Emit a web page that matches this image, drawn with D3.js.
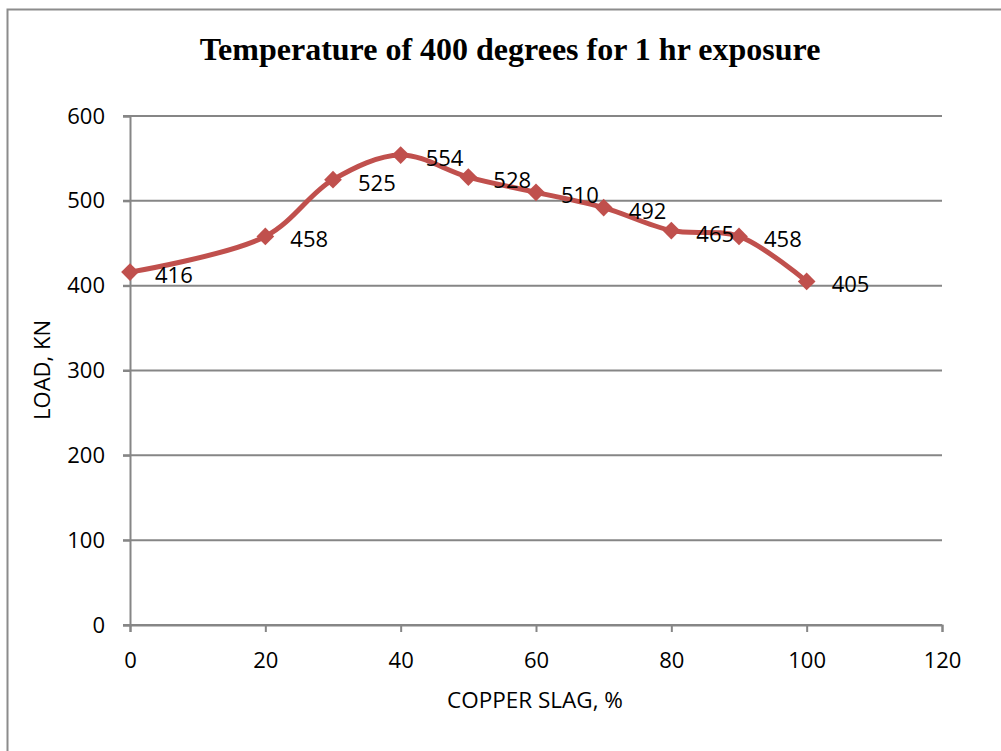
<!DOCTYPE html>
<html>
<head>
<meta charset="utf-8">
<script src="https://cdn.jsdelivr.net/npm/d3@7"></script>
<style>
  body { margin: 0; background: #fff; }
  text { font-family: "Open Sans", "Liberation Sans", sans-serif; fill: #000; }
</style>
</head>
<body>
<svg id="chart"></svg>
<script>
// data
var copperSlag = [0, 20, 30, 40, 50, 60, 70, 80, 90, 100];
var loadKN = [416, 458, 525, 554, 528, 510, 492, 465, 458, 405];
var xTicks = [0, 20, 40, 60, 80, 100, 120];
var yTicks = [0, 100, 200, 300, 400, 500, 600];

var titleText = "Temperature of 400 degrees for 1 hr exposure";
var xTitle = "COPPER SLAG, %";
var yTitle = "LOAD, KN";

var W = 1001, H = 751;
var margin = {top: 116, right: 59, bottom: 126, left: 130},
    width = W - margin.left - margin.right,
    height = H - margin.top - margin.bottom;

var svg = d3.select("#chart").attr("width", W).attr("height", H);

// outer chart frame (runs off the right and bottom of the picture)
svg.append("rect")
  .attr("x", 7.5).attr("y", 9.5)
  .attr("width", W + 20).attr("height", H + 20)
  .attr("fill", "none").attr("stroke", "#8c8c8c").attr("stroke-width", 2);

var g = svg.append("g")
  .attr("transform", "translate(" + margin.left + "," + margin.top + ")");

var x = d3.scaleLinear().domain([0, 120]).range([0, width]);
var y = d3.scaleLinear().domain([0, 600]).range([height, 0]);

// horizontal gridlines
g.append("g")
  .selectAll("line")
  .data(yTicks)
  .enter().append("line")
  .attr("x1", -7).attr("x2", width)
  .attr("y1", function(d) { return y(d); })
  .attr("y2", function(d) { return y(d); })
  .attr("stroke", "#868686").attr("stroke-width", 2);

// y axis
var yAxis = g.append("g")
  .call(d3.axisLeft(y).tickValues(yTicks).tickSize(7).tickPadding(18));
yAxis.select(".domain").attr("stroke", "#868686").attr("stroke-width", 2);
yAxis.selectAll(".tick line").attr("stroke", "#868686").attr("stroke-width", 2);
yAxis.selectAll("text").style("font-size", "22px").attr("fill", "#000");

// x axis
var xAxis = g.append("g")
  .attr("transform", "translate(0," + height + ")")
  .call(d3.axisBottom(x).tickValues(xTicks).tickSize(7).tickPadding(20));
xAxis.select(".domain").attr("stroke", "#868686").attr("stroke-width", 2);
xAxis.selectAll(".tick line").attr("stroke", "#868686").attr("stroke-width", 2);
xAxis.selectAll("text").style("font-size", "22px").attr("fill", "#000");

// smoothed line
var points = copperSlag.map(function(d, i) { return {x: d, y: loadKN[i]}; });

var line = d3.line()
  .x(function(d) { return x(d.x); })
  .y(function(d) { return y(d.y); })
  .curve(d3.curveCatmullRom.alpha(0.5));

g.append("path")
  .datum(points)
  .attr("d", line)
  .attr("fill", "none")
  .attr("stroke", "#c0504d")
  .attr("stroke-width", 5);

// diamond markers
g.selectAll(".marker")
  .data(points)
  .enter().append("path")
  .attr("class", "marker")
  .attr("transform", function(d) { return "translate(" + x(d.x) + "," + y(d.y) + ")"; })
  .attr("d", d3.symbol().type(d3.symbolDiamond2).size(200))
  .attr("fill", "#c0504d");

// data labels
g.selectAll(".lbl")
  .data(points)
  .enter().append("text")
  .attr("class", "lbl")
  .attr("x", function(d) { return x(d.x) + 25; })
  .attr("y", function(d) { return y(d.y) + 11; })
  .style("font-size", "22px")
  .text(function(d) { return d.y; });

// titles
svg.append("text")
  .attr("x", 510).attr("y", 60)
  .attr("text-anchor", "middle")
  .style("font-family", "'Liberation Serif', 'DejaVu Serif', serif")
  .style("font-weight", "bold")
  .style("font-size", "32px")
  .text(titleText);

svg.append("text")
  .attr("x", 535).attr("y", 708)
  .attr("text-anchor", "middle")
  .style("font-size", "22.5px")
  .text(xTitle);

svg.append("text")
  .attr("transform", "translate(50,370) rotate(-90)")
  .attr("text-anchor", "middle")
  .style("font-size", "22px")
  .text(yTitle);
</script>
</body>
</html>
